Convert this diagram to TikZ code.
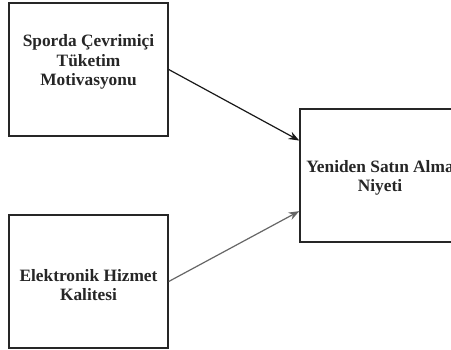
\documentclass[tikz,border=0pt]{standalone}
\usepackage{fontspec}
\setmainfont{Liberation Serif}
\usetikzlibrary{arrows.meta,calc}
\tikzset{
  box/.style={draw=black!85,line width=1.1pt,minimum width=119.25pt,minimum height=99.75pt,inner sep=0pt},
  txt/.style={align=center,font=\fontsize{13}{14.5}\selectfont\bfseries,text=black!85,inner sep=0pt},
  conn/.style={line width=0.9pt,-{Stealth[length=8pt,width=6pt]}},
}
\begin{document}
\begin{tikzpicture}[x=0.75pt,y=-0.75pt]
\useasboundingbox (0,0) rectangle (451,350);
\clip (0,0) rectangle (451,350);
\fill[white] (0,0) rectangle (451,350);
\node[box] (a) at (88.5,69.5) {};
\node[box] (b) at (88.5,281.5) {};
\node[box,minimum width=121.5pt] (c) at (381,175.5) {};
\node[txt] (ta) at (88.5,62) {Sporda Çevrimiçi\\Tüketim\\Motivasyonu};
\node[txt] (tb) at (88.5,285) {Elektronik Hizmet\\Kalitesi};
\node[txt] (tc) at (380,178) {Yeniden Satın Alma\\Niyeti};
\draw[conn,black!90] (a.east) -- ($(c.north west)!0.24!(c.south west)$);
\draw[conn,black!60] (b.east) -- ($(c.north west)!0.765!(c.south west)$);
\end{tikzpicture}
\end{document}
